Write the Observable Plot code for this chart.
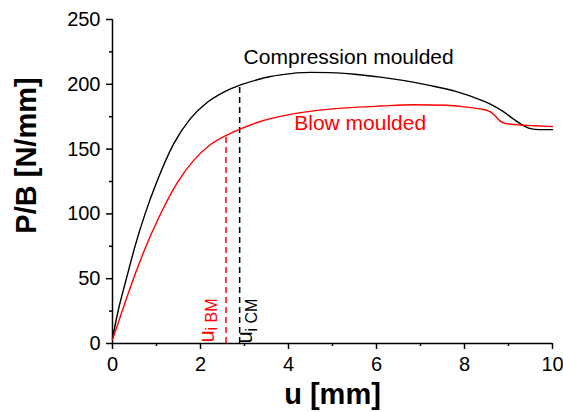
<!DOCTYPE html>
<html>
<head>
<meta charset="utf-8">
<script src="https://cdn.jsdelivr.net/npm/d3@7"></script>
<script src="https://cdn.jsdelivr.net/npm/@observablehq/plot@0.6"></script>
<style>
  html, body { margin: 0; padding: 0; background: #fff; }
  #chart svg { font-family: "Liberation Sans", Arial, sans-serif; }
</style>
</head>
<body>
<div id="chart"></div>
<script>
// Compression moulded (black)
const uCM = [0, 0.14, 0.30, 0.52, 0.75, 1.01, 1.39, 1.77, 2.15, 2.53, 2.91, 3.29, 3.59, 3.82, 4.5, 4.95, 5.5, 6.09, 6.6, 7.23, 7.8, 8.36, 8.6, 8.9, 9.12, 9.35, 9.5, 9.7, 10];
const vCM = [4, 27, 48, 76, 101, 125, 154, 173.5, 186, 194, 199.5, 203.5, 206, 207.3, 209.2, 209, 207.8, 205.5, 203, 199, 194.5, 188, 184.5, 178.5, 173, 168, 165.8, 165, 165];
// Blow moulded (red)
const uBM = [0, 0.1, 0.30, 0.52, 0.75, 1.05, 1.47, 1.85, 2.23, 2.61, 2.91, 3.29, 3.59, 3.82, 4.57, 5.3, 6.09, 6.85, 7.6, 8.0, 8.36, 8.5, 8.6, 8.7, 8.8, 8.9, 9.05, 9.27, 9.6, 10];
const vBM = [3, 13, 33, 54, 74, 97, 124, 141.5, 153.5, 161, 165.6, 170.5, 173.5, 175.3, 179.5, 181.8, 183.2, 184.2, 183.8, 182.6, 181, 180, 178.5, 175.5, 172, 170, 169.2, 168.6, 168, 167.4];

const xTicks = [0, 2, 4, 6, 8, 10];
const xMinor = [1, 3, 5, 7, 9];
const yTicks = [0, 50, 100, 150, 200, 250];
const yMinor = [25, 75, 125, 175, 225];

// initiation displacements and the load at each
const uiBM = [{u: 2.58, top: 161}];
const uiCM = [{u: 2.89, top: 198}];

const seriesLabels = [
  {u: 2.98, v: 215.3, text: "Compression moulded"},
  {u: 4.13, v: 164.4, text: "Blow moulded"}
];

const RED = "#ff0000";
const cm = uCM.map((u, i) => ({u, v: vCM[i]}));
const bm = uBM.map((u, i) => ({u, v: vBM[i]}));

const chart = Plot.plot({
  width: 563,
  height: 412,
  marginLeft: 112,
  marginRight: 11,
  marginTop: 19,
  marginBottom: 69,
  x: {domain: [0, 10]},
  y: {domain: [0, 250]},
  style: {fontFamily: "'Liberation Sans', Arial, sans-serif", color: "#000", background: "#fff"},
  marks: [
    Plot.axisX({ticks: xTicks, tickSize: 6, tickPadding: 7, fontSize: 20, label: null, strokeWidth: 1.5}),
    Plot.axisX({ticks: xMinor, tickSize: 3, tickFormat: () => "", label: null, strokeWidth: 1.5}),
    Plot.axisY({ticks: yTicks, tickSize: 6, tickPadding: 6, fontSize: 20, label: null, strokeWidth: 1.5}),
    Plot.axisY({ticks: yMinor, tickSize: 3, tickFormat: () => "", label: null, strokeWidth: 1.5}),
    Plot.ruleY([0], {stroke: "#000", strokeWidth: 1.5}),
    Plot.ruleX([0], {stroke: "#000", strokeWidth: 1.5}),
    Plot.ruleX(uiBM, {x: "u", y1: 0, y2: "top", stroke: RED, strokeWidth: 1.5, strokeDasharray: "6,4"}),
    Plot.ruleX(uiCM, {x: "u", y1: 0, y2: "top", stroke: "#000", strokeWidth: 1.5, strokeDasharray: "6,4"}),
    Plot.line(cm, {x: "u", y: "v", stroke: "#000", strokeWidth: 1.4, curve: "monotone-x"}),
    Plot.line(bm, {x: "u", y: "v", stroke: RED, strokeWidth: 1.4, curve: "monotone-x"}),
    Plot.text([seriesLabels[0]], {x: "u", y: "v", text: "text", fill: "#000", fontSize: 21, textAnchor: "start", lineAnchor: "bottom"}),
    Plot.text([seriesLabels[1]], {x: "u", y: "v", text: "text", fill: RED, fontSize: 21, textAnchor: "start", lineAnchor: "bottom"}),
    // rotated u_i labels
    Plot.text(uiBM, {x: "u", y: 0, text: () => "u", fill: RED, fontSize: 22, rotate: -90, textAnchor: "start", lineAnchor: "bottom", dx: -12.4, dy: -1}),
    Plot.text(uiBM, {x: "u", y: 0, text: () => "i BM", fill: RED, fontSize: 16, rotate: -90, textAnchor: "start", lineAnchor: "bottom", dx: -9, dy: -13}),
    Plot.text(uiCM, {x: "u", y: 0, text: () => "u", fill: "#000", fontSize: 22, rotate: -90, textAnchor: "start", lineAnchor: "bottom", dx: 12.4, dy: 0}),
    Plot.text(uiCM, {x: "u", y: 0, text: () => "i CM", fill: "#000", fontSize: 16, rotate: -90, textAnchor: "start", lineAnchor: "bottom", dx: 17.4, dy: -12}),
    // axis titles
    Plot.text(["u [mm]"], {frameAnchor: "bottom", text: d => d, fontSize: 29, fontWeight: "bold", textAnchor: "middle", lineAnchor: "bottom", dy: 60, fill: "#000"}),
    Plot.text(["P/B [N/mm]"], {frameAnchor: "left", text: d => d, fontSize: 29, fontWeight: "bold", textAnchor: "middle", lineAnchor: "bottom", rotate: -90, dx: -77, dy: -26, fill: "#000"})
  ]
});
document.getElementById("chart").appendChild(chart);
</script>
</body>
</html>
